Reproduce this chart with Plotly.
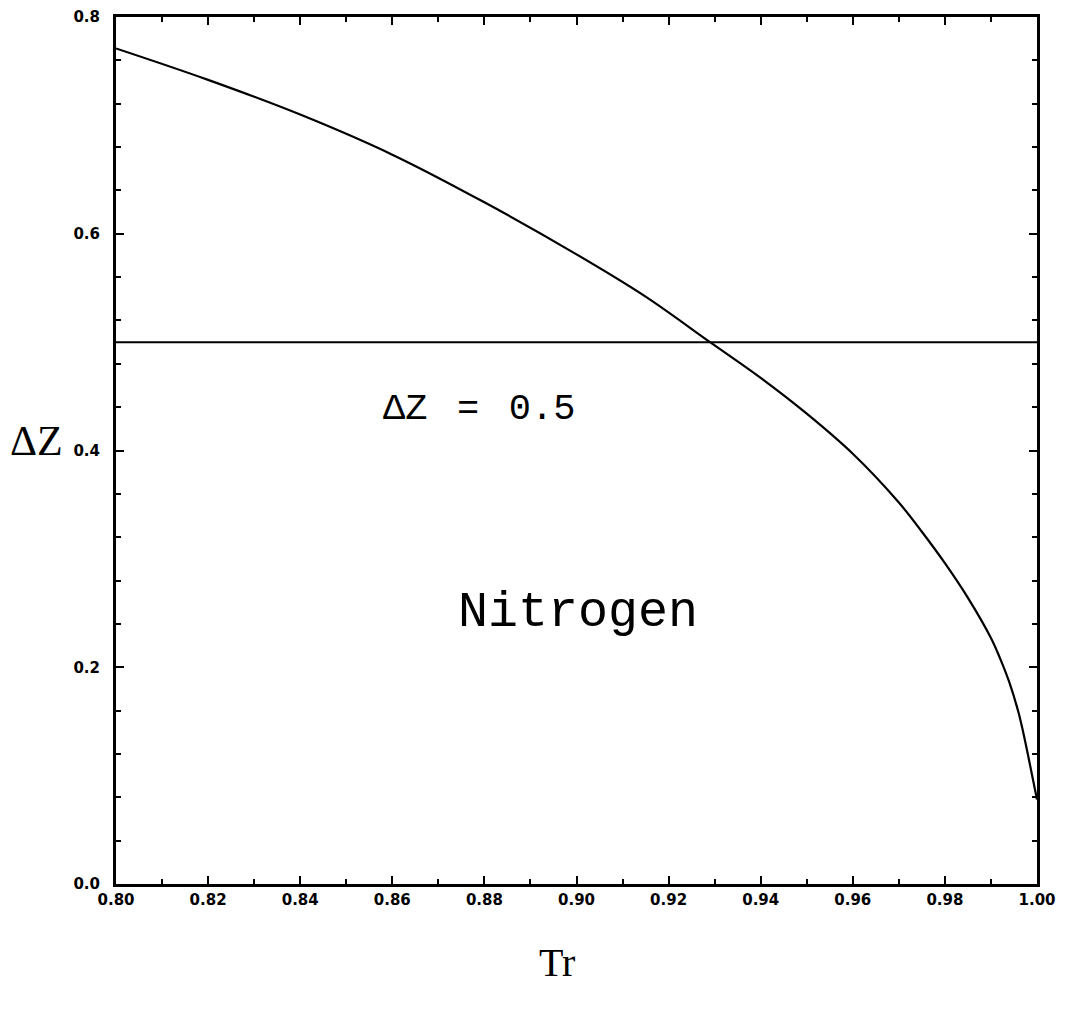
import plotly.graph_objects as go

# Saturation curve for nitrogen: reduced temperature vs. ΔZ
tr_values = [0.800, 0.820, 0.840, 0.860, 0.880, 0.900, 0.915, 0.929,
             0.940, 0.950, 0.960, 0.970, 0.975, 0.980, 0.985, 0.990,
             0.992, 0.994, 0.996, 0.997, 0.998, 0.999, 1.000]
dz_values = [0.771, 0.742, 0.710, 0.673, 0.629, 0.581, 0.542, 0.500,
             0.467, 0.434, 0.397, 0.352, 0.325, 0.296, 0.264, 0.227,
             0.208, 0.186, 0.158, 0.140, 0.120, 0.099, 0.078]

# Reference level ΔZ = 0.5
ref_x = [0.80, 1.00]
ref_y = [0.5, 0.5]

x_tick_vals = [0.80, 0.82, 0.84, 0.86, 0.88, 0.90, 0.92, 0.94, 0.96, 0.98, 1.00]
x_tick_text = ["0.80", "0.82", "0.84", "0.86", "0.88", "0.90", "0.92",
               "0.94", "0.96", "0.98", "1.00"]
y_tick_vals = [0.0, 0.2, 0.4, 0.6, 0.8]
y_tick_text = ["0.0", "0.2", "0.4", "0.6", "0.8"]

fig = go.Figure()
fig.add_trace(go.Scatter(x=tr_values, y=dz_values, mode="lines",
                         line=dict(color="black", width=2.2, shape="spline",
                                   smoothing=1.0),
                         showlegend=False))
fig.add_trace(go.Scatter(x=ref_x, y=ref_y, mode="lines",
                         line=dict(color="black", width=2),
                         showlegend=False))

tick_font = dict(family="DejaVu Sans", size=15, color="black", weight="bold")

fig.update_xaxes(range=[0.80, 1.00], tickmode="array", tickvals=x_tick_vals,
                 ticktext=x_tick_text, ticks="inside", ticklen=8, tickwidth=2,
                 tickcolor="black", showline=True, linewidth=3, linecolor="black",
                 mirror="ticks", showgrid=False, zeroline=False,
                 tickfont=tick_font,
                 minor=dict(dtick=0.01, ticks="inside", ticklen=5, tickwidth=2,
                            tickcolor="black", showgrid=False))
fig.update_yaxes(range=[0.0, 0.8], tickmode="array", tickvals=y_tick_vals,
                 ticktext=y_tick_text, ticks="inside", ticklen=8, tickwidth=2,
                 tickcolor="black", showline=True, linewidth=3, linecolor="black",
                 mirror="ticks", showgrid=False, zeroline=False,
                 tickfont=tick_font, ticklabelstandoff=10,
                 minor=dict(dtick=0.04, ticks="inside", ticklen=5, tickwidth=2,
                            tickcolor="black", showgrid=False))

# Label for the reference level and the substance name
fig.add_annotation(x=0.394, y=0.548, xref="paper", yref="paper",
                   text="ΔZ \u2009= \u20090.5", showarrow=False,
                   font=dict(family="Liberation Mono", size=37, color="black"),
                   xanchor="center", yanchor="middle")
fig.add_annotation(x=0.502, y=0.313, xref="paper", yref="paper",
                   text="Nitrogen", showarrow=False,
                   font=dict(family="Liberation Mono", size=50, color="black"),
                   xanchor="center", yanchor="middle")
# Axis titles placed as free text
fig.add_annotation(x=-0.0858, y=0.511, xref="paper", yref="paper",
                   text="ΔZ", showarrow=False,
                   font=dict(family="Liberation Serif", size=42, color="black"),
                   xanchor="center", yanchor="middle")
fig.add_annotation(x=0.479, y=-0.09, xref="paper", yref="paper",
                   text="Tr", showarrow=False,
                   font=dict(family="Liberation Serif", size=40, color="black"),
                   xanchor="center", yanchor="middle")

fig.update_layout(width=1067, height=1015, autosize=False,
                  margin=dict(l=116, r=30, t=17, b=131, autoexpand=False),
                  plot_bgcolor="white", paper_bgcolor="white")

fig.write_html("out.html")
